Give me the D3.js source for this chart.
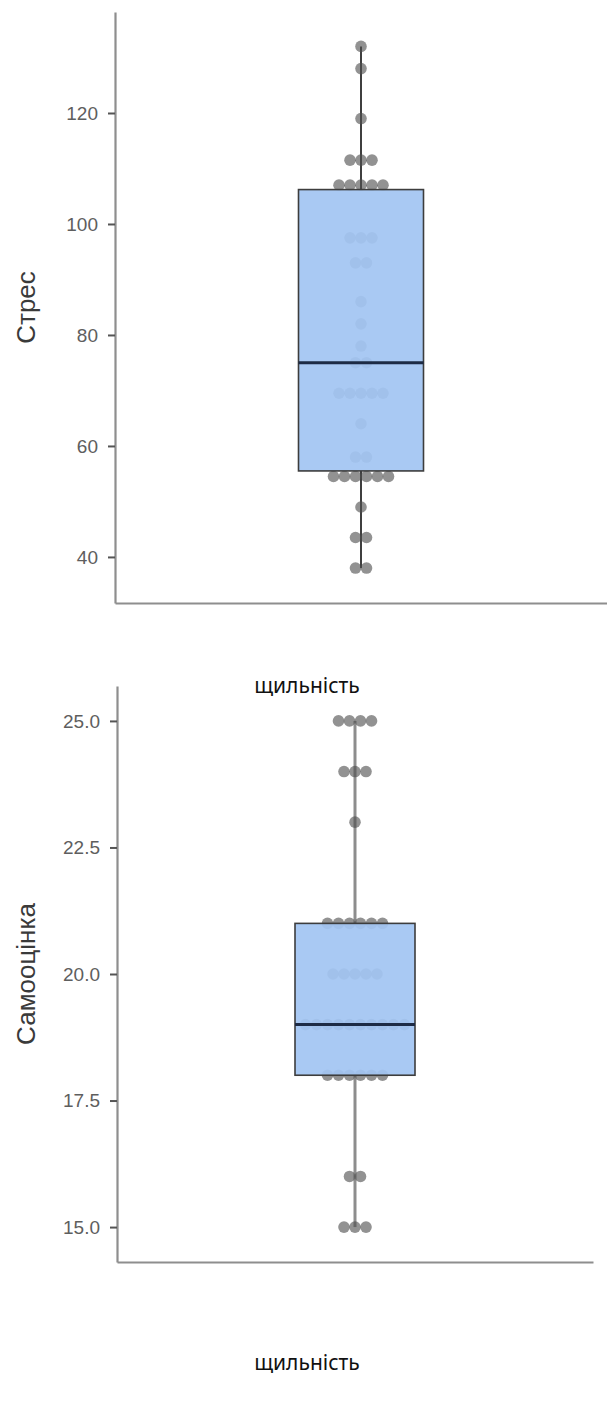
<!DOCTYPE html>
<html>
<head>
<meta charset="utf-8">
<script src="https://cdn.jsdelivr.net/npm/d3@7"></script>
<style>
  html, body { margin: 0; padding: 0; background: #fff; }
  svg { display: block; }
</style>
</head>
<body>
<svg id="chart" width="607" height="1401"></svg>
<script>
// Category shown under each panel
const category = ["щильність"];

// Стрес: individual observations (stacked as dots)
const stressValues = [
  132, 128, 119,
  111.5, 111.5, 111.5,
  107, 107, 107, 107, 107,
  97.5, 97.5, 97.5,
  93, 93,
  86, 82, 78,
  75, 75,
  69.5, 69.5, 69.5, 69.5, 69.5,
  64,
  58, 58,
  54.5, 54.5, 54.5, 54.5, 54.5, 54.5,
  49,
  43.5, 43.5,
  38, 38
];
// Стрес box summary: min, Q1, median, Q3, max
const stressStats = [38, 55.5, 75, 106.2, 132];
const stressTicks = [40, 60, 80, 100, 120];

// Самооцінка: individual observations
const selfValues = [
  25, 25, 25, 25,
  24, 24, 24,
  23,
  21, 21, 21, 21, 21, 21,
  20, 20, 20, 20, 20,
  19, 19, 19, 19, 19, 19, 19, 19, 19, 19,
  18, 18, 18, 18, 18, 18,
  16, 16,
  15, 15, 15
];
// Самооцінка box summary: min, Q1, median, Q3, max
const selfStats = [15, 18, 19, 21, 25];
const selfTicks = [15.0, 17.5, 20.0, 22.5, 25.0];

const svg = d3.select("#chart");
const tickFont = "'Liberation Sans', Arial, sans-serif";

function panel(opts) {
  const g = svg.append("g");
  const y = d3.scaleLinear().domain(opts.yDomain).range([opts.bottom, opts.top]);
  const x = d3.scaleBand().domain(category).range([opts.left, opts.right]).padding(0);
  const cx = x(category[0]) + x.bandwidth() / 2;

  // y axis
  const yAxis = d3.axisLeft(y)
    .tickValues(opts.ticks)
    .tickFormat(opts.fmt)
    .tickSize(7)
    .tickSizeOuter(0)
    .tickPadding(10);
  const ya = g.append("g").attr("transform", `translate(${opts.left},0)`).call(yAxis);
  ya.select(".domain").attr("stroke", "#8e8e8e").attr("stroke-width", 2.2);
  ya.selectAll(".tick line").attr("stroke", "#555").attr("stroke-width", 2);
  ya.selectAll(".tick text")
    .attr("fill", "#5e5e5e")
    .style("font-family", tickFont)
    .style("font-size", "19px");

  // x axis (baseline only)
  const xAxis = d3.axisBottom(x).tickValues([]).tickSizeOuter(0);
  const xa = g.append("g").attr("transform", `translate(0,${opts.bottom})`).call(xAxis);
  xa.select(".domain").attr("stroke", "#8e8e8e").attr("stroke-width", 2.2);

  // y axis title
  g.append("text")
    .attr("transform", `translate(${opts.titleX},${(opts.top + opts.bottom) / 2}) rotate(-90)`)
    .attr("text-anchor", "middle")
    .attr("dominant-baseline", "central")
    .attr("fill", "#3a3a3a")
    .style("font-family", tickFont)
    .style("font-size", "26px")
    .text(opts.title);

  const [mn, q1, med, q3, mx] = opts.stats;

  // whiskers
  g.append("line")
    .attr("x1", cx).attr("x2", cx)
    .attr("y1", y(q3)).attr("y2", y(mx))
    .attr("stroke", opts.whiskerColor).attr("stroke-width", opts.whiskerWidth);
  g.append("line")
    .attr("x1", cx).attr("x2", cx)
    .attr("y1", y(q1)).attr("y2", y(mn))
    .attr("stroke", opts.whiskerColor).attr("stroke-width", opts.whiskerWidth);

  // dots stacked side by side per value
  const groups = d3.groups(opts.values, d => d);
  const spacing = 11;
  const dots = [];
  groups.forEach(([v, arr]) => {
    arr.forEach((_, i) => {
      dots.push({ v, dx: (i - (arr.length - 1) / 2) * spacing });
    });
  });
  g.append("g").selectAll("circle").data(dots).join("circle")
    .attr("cx", d => cx + d.dx)
    .attr("cy", d => y(d.v))
    .attr("r", 5.8)
    .attr("fill", "#4f4f4f")
    .attr("fill-opacity", 0.62);

  // box
  g.append("rect")
    .attr("x", cx - opts.boxWidth / 2)
    .attr("y", y(q3))
    .attr("width", opts.boxWidth)
    .attr("height", y(q1) - y(q3))
    .attr("fill", "rgb(163,197,242)")
    .attr("fill-opacity", 0.93)
    .attr("stroke", "#3d3d3d")
    .attr("stroke-width", 1.6);

  // median
  g.append("line")
    .attr("x1", cx - opts.boxWidth / 2).attr("x2", cx + opts.boxWidth / 2)
    .attr("y1", y(med)).attr("y2", y(med))
    .attr("stroke", "#1d2b45").attr("stroke-width", 3);

  // category caption under the panel
  svg.append("text")
    .attr("x", 307)
    .attr("y", opts.captionY)
    .attr("text-anchor", "middle")
    .attr("fill", "#111")
    .style("font-family", "'Noto Sans', 'Open Sans', sans-serif")
    .style("font-size", "21px")
    .text(category[0]);
}

panel({
  values: stressValues, stats: stressStats, ticks: stressTicks,
  fmt: d3.format("d"),
  yDomain: [31.7, 138.2], top: 12, bottom: 603, left: 115, right: 607,
  boxWidth: 125, title: "Стрес", titleX: 26,
  whiskerColor: "#3f3f3f", whiskerWidth: 2,
  captionY: 693
});

panel({
  values: selfValues, stats: selfStats, ticks: selfTicks,
  fmt: d3.format(".1f"),
  yDomain: [14.31, 25.69], top: 686, bottom: 1262, left: 117, right: 593,
  boxWidth: 120, title: "Самооцінка", titleX: 26,
  whiskerColor: "#8d8d8d", whiskerWidth: 3,
  captionY: 1370
});
</script>
</body>
</html>
